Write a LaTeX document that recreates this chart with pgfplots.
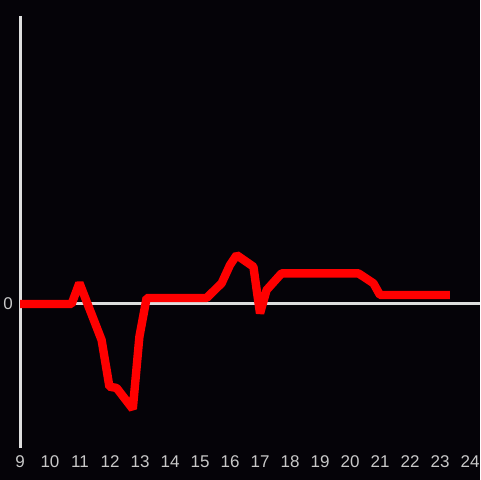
\documentclass[border=0pt]{standalone}
\usepackage{fontspec}
\setmainfont{Liberation Sans}
\usepackage{pgfplots}
\pgfplotsset{compat=1.18}
\definecolor{bgc}{RGB}{5,3,8}
\definecolor{axc}{RGB}{222,222,222}
\definecolor{lblc}{RGB}{200,200,200}

\begin{document}
\begin{tikzpicture}
% page: 480 px = 240pt, axis box from px (20,448) to (480,16)
\fill[bgc] (-10pt,-16pt) rectangle (230pt,224pt);
\begin{axis}[
  scale only axis, width=230pt, height=216pt,
  xmin=9, xmax=24.3333, ymin=-1, ymax=2,
  enlargelimits=false,
  axis y line=left, axis x line=bottom,
  x axis line style={draw=none},
  y axis line style={axc, line width=1.5pt, -},
  xtick={9,...,24}, ytick={0},
  major tick length=0pt,
  ymajorgrids, grid style={axc, line width=1.5pt},
  tick label style={font=\fontsize{8.5}{9}\selectfont, lblc},
  xticklabel style={yshift=-0.5pt},
  /pgf/number format/assume math mode=true,
  clip=false,
]
\addplot[red, line width=4.2pt, line join=bevel] coordinates {
  (9,0) (10.72,0) (10.98,0.146) (11.72,-0.25) (11.98,-0.574) (12.22,-0.583)
  (12.76,-0.729) (12.98,-0.227) (13.22,0.042) (15.22,0.042) (15.72,0.144)
  (16.0,0.271) (16.22,0.340) (16.78,0.259) (17.0,-0.065) (17.22,0.097)
  (17.72,0.213) (20.28,0.213) (20.78,0.144) (21.0,0.0625) (23.33,0.0625)
};
\end{axis}
\pgfresetboundingbox
\path[use as bounding box] (-10pt,-16pt) rectangle (230pt,224pt);
\end{tikzpicture}
\end{document}
